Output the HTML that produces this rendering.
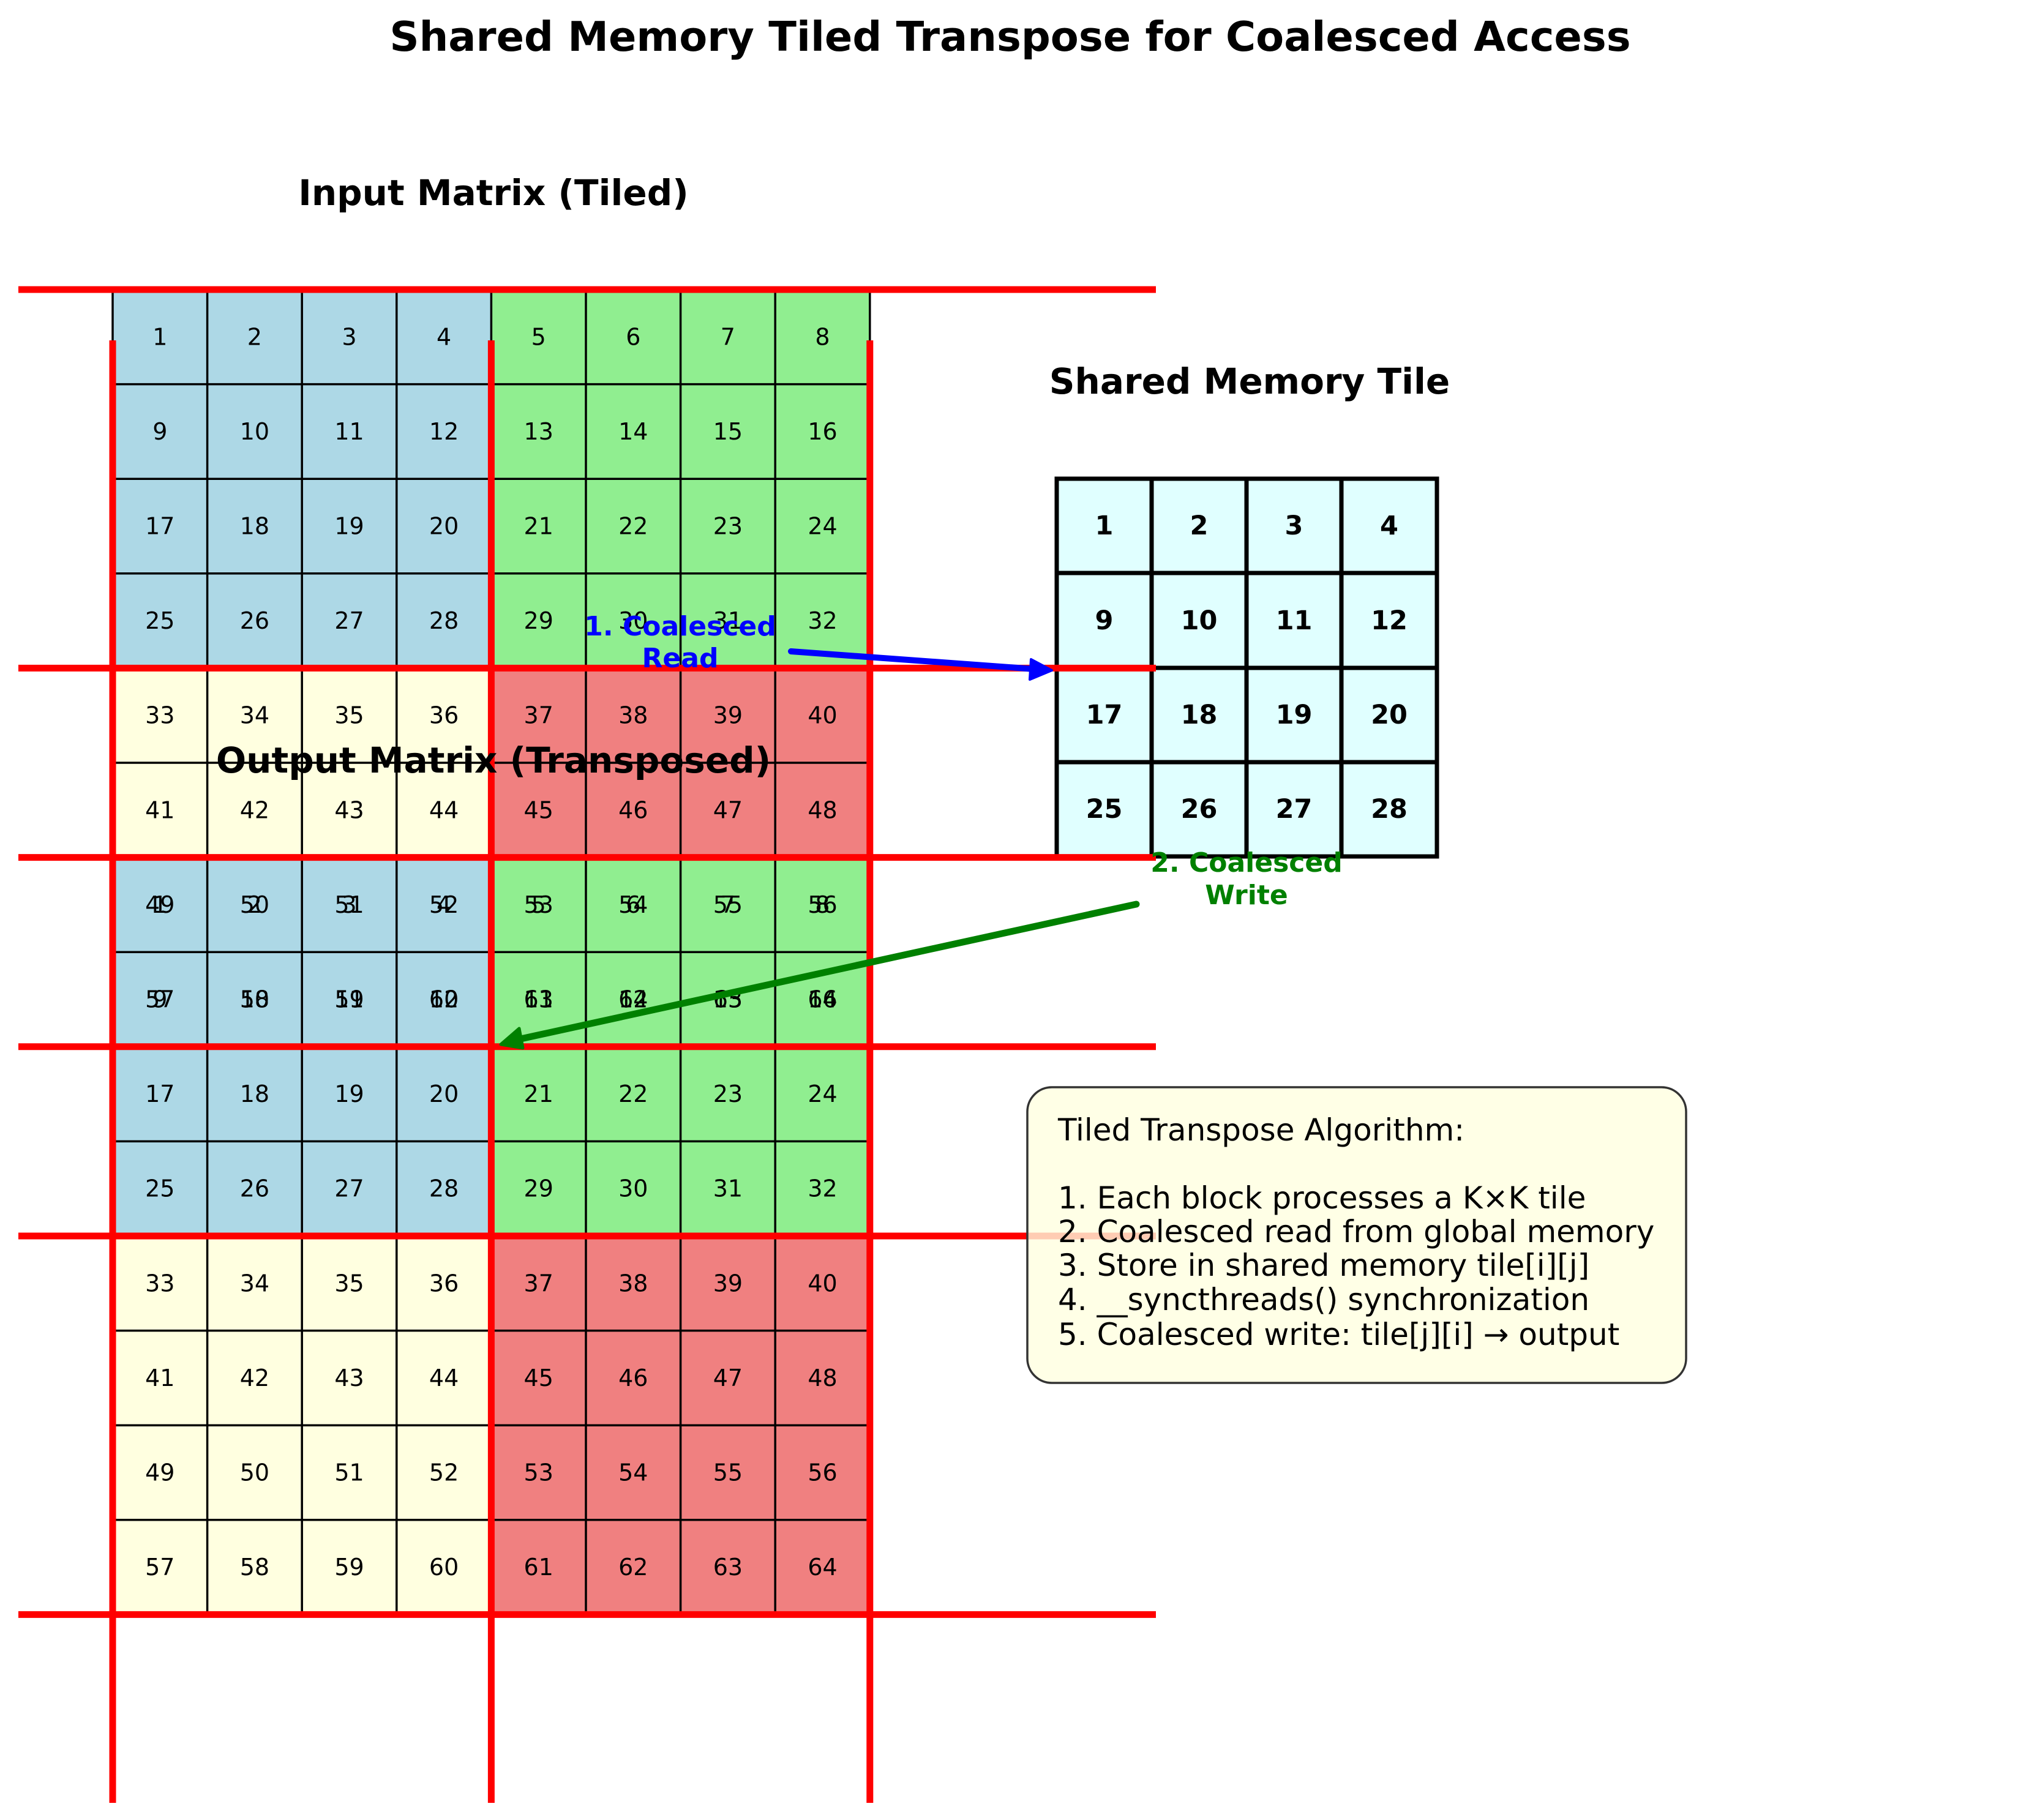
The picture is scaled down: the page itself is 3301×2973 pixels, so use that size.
<!DOCTYPE html>
<html><head><meta charset="utf-8">
<style>
html,body{margin:0;padding:0;background:#fff;}
svg{display:block;}
text{font-family:"DejaVu Sans","Liberation Sans",sans-serif;}
.n{font-size:38px;text-anchor:middle;dominant-baseline:central;fill:#000;}
.b{font-size:43px;font-weight:bold;text-anchor:middle;dominant-baseline:central;fill:#000;}
</style></head>
<body>
<svg width="3301" height="2973" viewBox="0 0 3301 2973" xmlns="http://www.w3.org/2000/svg">
<rect x="184" y="473" width="618.4" height="618.4" fill="#add8e6"/>
<rect x="802.4" y="473" width="618.4" height="618.4" fill="#90ee90"/>
<rect x="184" y="1091.4" width="618.4" height="618.4" fill="#ffffe0"/>
<rect x="802.4" y="1091.4" width="618.4" height="618.4" fill="#f08080"/>
<g stroke="#000" stroke-width="3.5">
<path d="M184 473V1709.8M338.6 473V1709.8M493.2 473V1709.8M647.8 473V1709.8M802.4 473V1709.8M957 473V1709.8M1111.6 473V1709.8M1266.2 473V1709.8M1420.8 473V1709.8"/>
<path d="M184 473H1420.8M184 627.6H1420.8M184 782.2H1420.8M184 936.8H1420.8M184 1091.4H1420.8M184 1246H1420.8M184 1400.6H1420.8M184 1555.2H1420.8M184 1709.8H1420.8"/>
</g>
<rect x="184" y="1400.6" width="618.4" height="618.4" fill="#add8e6"/>
<rect x="802.4" y="1400.6" width="618.4" height="618.4" fill="#90ee90"/>
<rect x="184" y="2019" width="618.4" height="618.4" fill="#ffffe0"/>
<rect x="802.4" y="2019" width="618.4" height="618.4" fill="#f08080"/>
<g stroke="#000" stroke-width="3.5">
<path d="M184 1400.6V2637.4M338.6 1400.6V2637.4M493.2 1400.6V2637.4M647.8 1400.6V2637.4M802.4 1400.6V2637.4M957 1400.6V2637.4M1111.6 1400.6V2637.4M1266.2 1400.6V2637.4M1420.8 1400.6V2637.4"/>
<path d="M184 1400.6H1420.8M184 1555.2H1420.8M184 1709.8H1420.8M184 1864.4H1420.8M184 2019H1420.8M184 2173.6H1420.8M184 2328.2H1420.8M184 2482.8H1420.8M184 2637.4H1420.8"/>
</g>
<g class="n">
<g transform="translate(0,550.3)"><text class="n" x="261.3">1</text><text class="n" x="415.9">2</text><text class="n" x="570.5">3</text><text class="n" x="725.1">4</text><text class="n" x="879.7">5</text><text class="n" x="1034.3">6</text><text class="n" x="1188.9">7</text><text class="n" x="1343.5">8</text></g>
<g transform="translate(0,704.9)"><text class="n" x="261.3">9</text><text class="n" x="415.9">10</text><text class="n" x="570.5">11</text><text class="n" x="725.1">12</text><text class="n" x="879.7">13</text><text class="n" x="1034.3">14</text><text class="n" x="1188.9">15</text><text class="n" x="1343.5">16</text></g>
<g transform="translate(0,859.5)"><text class="n" x="261.3">17</text><text class="n" x="415.9">18</text><text class="n" x="570.5">19</text><text class="n" x="725.1">20</text><text class="n" x="879.7">21</text><text class="n" x="1034.3">22</text><text class="n" x="1188.9">23</text><text class="n" x="1343.5">24</text></g>
<g transform="translate(0,1014.1)"><text class="n" x="261.3">25</text><text class="n" x="415.9">26</text><text class="n" x="570.5">27</text><text class="n" x="725.1">28</text><text class="n" x="879.7">29</text><text class="n" x="1034.3">30</text><text class="n" x="1188.9">31</text><text class="n" x="1343.5">32</text></g>
<g transform="translate(0,1168.7)"><text class="n" x="261.3">33</text><text class="n" x="415.9">34</text><text class="n" x="570.5">35</text><text class="n" x="725.1">36</text><text class="n" x="879.7">37</text><text class="n" x="1034.3">38</text><text class="n" x="1188.9">39</text><text class="n" x="1343.5">40</text></g>
<g transform="translate(0,1323.3)"><text class="n" x="261.3">41</text><text class="n" x="415.9">42</text><text class="n" x="570.5">43</text><text class="n" x="725.1">44</text><text class="n" x="879.7">45</text><text class="n" x="1034.3">46</text><text class="n" x="1188.9">47</text><text class="n" x="1343.5">48</text></g>
<g transform="translate(0,1477.9)"><text class="n" x="261.3">49</text><text class="n" x="415.9">50</text><text class="n" x="570.5">51</text><text class="n" x="725.1">52</text><text class="n" x="879.7">53</text><text class="n" x="1034.3">54</text><text class="n" x="1188.9">55</text><text class="n" x="1343.5">56</text></g>
<g transform="translate(0,1632.5)"><text class="n" x="261.3">57</text><text class="n" x="415.9">58</text><text class="n" x="570.5">59</text><text class="n" x="725.1">60</text><text class="n" x="879.7">61</text><text class="n" x="1034.3">62</text><text class="n" x="1188.9">63</text><text class="n" x="1343.5">64</text></g>
<g transform="translate(0,1477.9)"><text class="n" x="261.3">1</text><text class="n" x="415.9">2</text><text class="n" x="570.5">3</text><text class="n" x="725.1">4</text><text class="n" x="879.7">5</text><text class="n" x="1034.3">6</text><text class="n" x="1188.9">7</text><text class="n" x="1343.5">8</text></g>
<g transform="translate(0,1632.5)"><text class="n" x="261.3">9</text><text class="n" x="415.9">10</text><text class="n" x="570.5">11</text><text class="n" x="725.1">12</text><text class="n" x="879.7">13</text><text class="n" x="1034.3">14</text><text class="n" x="1188.9">15</text><text class="n" x="1343.5">16</text></g>
<g transform="translate(0,1787.1)"><text class="n" x="261.3">17</text><text class="n" x="415.9">18</text><text class="n" x="570.5">19</text><text class="n" x="725.1">20</text><text class="n" x="879.7">21</text><text class="n" x="1034.3">22</text><text class="n" x="1188.9">23</text><text class="n" x="1343.5">24</text></g>
<g transform="translate(0,1941.7)"><text class="n" x="261.3">25</text><text class="n" x="415.9">26</text><text class="n" x="570.5">27</text><text class="n" x="725.1">28</text><text class="n" x="879.7">29</text><text class="n" x="1034.3">30</text><text class="n" x="1188.9">31</text><text class="n" x="1343.5">32</text></g>
<g transform="translate(0,2096.3)"><text class="n" x="261.3">33</text><text class="n" x="415.9">34</text><text class="n" x="570.5">35</text><text class="n" x="725.1">36</text><text class="n" x="879.7">37</text><text class="n" x="1034.3">38</text><text class="n" x="1188.9">39</text><text class="n" x="1343.5">40</text></g>
<g transform="translate(0,2250.9)"><text class="n" x="261.3">41</text><text class="n" x="415.9">42</text><text class="n" x="570.5">43</text><text class="n" x="725.1">44</text><text class="n" x="879.7">45</text><text class="n" x="1034.3">46</text><text class="n" x="1188.9">47</text><text class="n" x="1343.5">48</text></g>
<g transform="translate(0,2405.5)"><text class="n" x="261.3">49</text><text class="n" x="415.9">50</text><text class="n" x="570.5">51</text><text class="n" x="725.1">52</text><text class="n" x="879.7">53</text><text class="n" x="1034.3">54</text><text class="n" x="1188.9">55</text><text class="n" x="1343.5">56</text></g>
<g transform="translate(0,2560.1)"><text class="n" x="261.3">57</text><text class="n" x="415.9">58</text><text class="n" x="570.5">59</text><text class="n" x="725.1">60</text><text class="n" x="879.7">61</text><text class="n" x="1034.3">62</text><text class="n" x="1188.9">63</text><text class="n" x="1343.5">64</text></g>
</g>
<rect x="1726" y="782" width="621" height="617" fill="#e0ffff"/>
<g stroke="#000" stroke-width="7" fill="none">
<rect x="1726" y="782" width="621" height="617"/>
<path d="M1881 782V1399M2036 782V1399M2191 782V1399M1726 936H2347M1726 1091H2347M1726 1245H2347"/>
</g>
<g transform="translate(0,859)"><text class="b" x="1803.5">1</text><text class="b" x="1958.5">2</text><text class="b" x="2113.5">3</text><text class="b" x="2269">4</text></g>
<g transform="translate(0,1014)"><text class="b" x="1803.5">9</text><text class="b" x="1958.5">10</text><text class="b" x="2113.5">11</text><text class="b" x="2269">12</text></g>
<g transform="translate(0,1168)"><text class="b" x="1803.5">17</text><text class="b" x="1958.5">18</text><text class="b" x="2113.5">19</text><text class="b" x="2269">20</text></g>
<g transform="translate(0,1322)"><text class="b" x="1803.5">25</text><text class="b" x="1958.5">26</text><text class="b" x="2113.5">27</text><text class="b" x="2269">28</text></g>
<g stroke="#ff0000" stroke-width="11">
<path d="M30 473H1888M30 1091.4H1888M30 1400.6H1888M30 1709.8H1888M30 2019H1888M30 2637.4H1888"/>
<path d="M184 556V2945M802.4 556V2945M1420.8 556V2945"/>
</g>
<text x="1650" y="83" font-size="67" font-weight="bold" text-anchor="middle">Shared Memory Tiled Transpose for Coalesced Access</text>
<text x="806" y="335" font-size="58" font-weight="bold" text-anchor="middle">Input Matrix (Tiled)</text>
<text x="2041" y="643" font-size="58" font-weight="bold" text-anchor="middle">Shared Memory Tile</text>
<text x="806" y="1262" font-size="58" font-weight="bold" text-anchor="middle">Output Matrix (Transposed)</text>
<line x1="1292" y1="1064" x2="1690" y2="1093" stroke="#0000ff" stroke-width="10" stroke-linecap="round"/>
<polygon points="1718,1095 1684,1077 1682,1110" fill="#0000ff" stroke="#0000ff" stroke-width="4" stroke-linejoin="round"/>
<text x="1111" y="1038" font-size="44" font-weight="bold" text-anchor="middle" fill="#0000ff">1. Coalesced</text>
<text x="1111" y="1090" font-size="44" font-weight="bold" text-anchor="middle" fill="#0000ff">Read</text>
<line x1="1856" y1="1477" x2="846" y2="1698" stroke="#008000" stroke-width="11" stroke-linecap="round"/>
<polygon points="818,1706 848,1680 854,1712" fill="#008000" stroke="#008000" stroke-width="5" stroke-linejoin="round"/>
<text x="2036" y="1424" font-size="44" font-weight="bold" text-anchor="middle" fill="#008000">2. Coalesced</text>
<text x="2036" y="1477" font-size="44" font-weight="bold" text-anchor="middle" fill="#008000">Write</text>
<rect x="1678" y="1776" width="1076" height="483" rx="40" ry="40" fill="#ffffe0" fill-opacity="0.8" stroke="#333" stroke-width="3.5"/>
<g font-size="50" fill="#000">
<text x="1728" y="1863">Tiled Transpose Algorithm:</text>
<text x="1728" y="1974">1. Each block processes a K×K tile</text>
<text x="1728" y="2029">2. Coalesced read from global memory</text>
<text x="1728" y="2084">3. Store in shared memory tile[i][j]</text>
<text x="1728" y="2140">4. __syncthreads() synchronization</text>
<text x="1728" y="2197">5. Coalesced write: tile[j][i] → output</text>
</g>
</svg>
</body></html>
